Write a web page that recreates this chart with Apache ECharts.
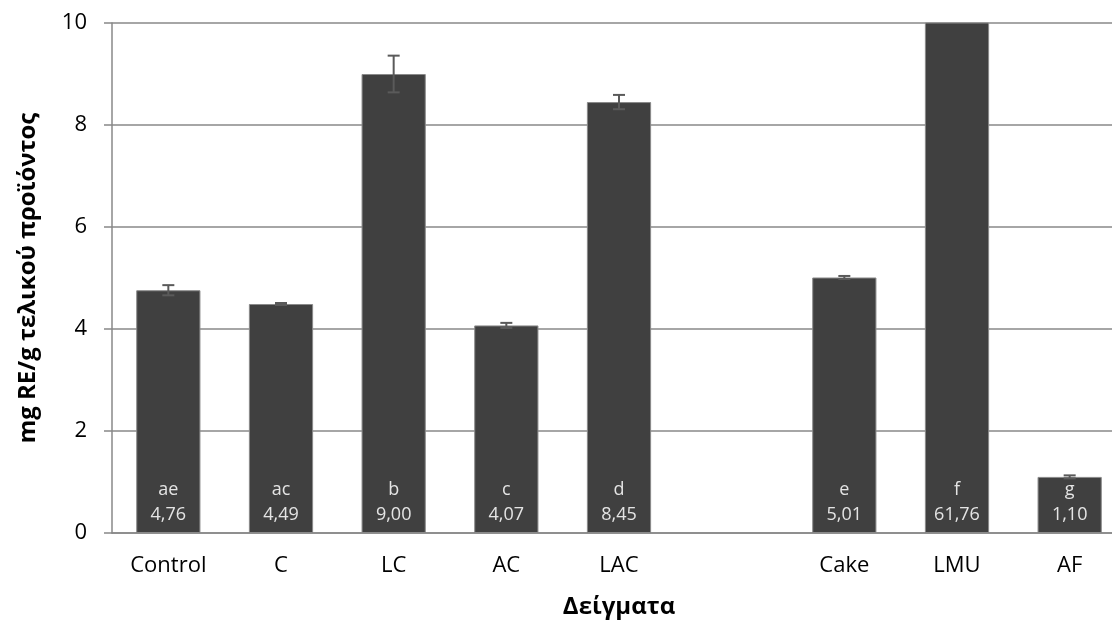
<!DOCTYPE html>
<html>
<head>
<meta charset="utf-8">
<script src="https://cdn.jsdelivr.net/npm/echarts@6/dist/echarts.min.js"></script>
<style>
  html, body { margin: 0; padding: 0; background: #fff; }
  #chart { width: 1112px; height: 621px; }
</style>
</head>
<body>
<div id="chart"></div>
<script>
// samples (empty slot between LAC and Cake, as in the original)
const categories = ['Control', 'C', 'LC', 'AC', 'LAC', '', 'Cake', 'LMU', 'AF']
const values = [4.76, 4.49, 9.00, 4.07, 8.45, null, 5.01, 61.76, 1.10]
const errors = [0.10, 0.02, 0.36, 0.05, 0.14, null, 0.03, 0, 0.03]
const letters = ['ae', 'ac', 'b', 'c', 'd', '', 'e', 'f', 'g']

const fontFamily = 'Open Sans'

let chart = echarts.init(document.getElementById('chart'))

let errorData = []
values.forEach((v, i) => {
  if (v != null) {
    errorData.push([i, v - errors[i], v + errors[i]])
  }
})

const options = {
  animation: false,
  grid: {
    left: 112,
    width: 1014,
    top: 23,
    height: 510,
    outerBoundsMode: 'none',
    containLabel: false
  },
  xAxis: {
    type: 'category',
    data: categories,
    name: 'Δείγματα',
    nameLocation: 'middle',
    nameGap: 62,
    nameTextStyle: {
      fontFamily: fontFamily,
      fontSize: 24,
      fontWeight: 'bold',
      color: '#000'
    },
    axisLine: { lineStyle: { color: '#888', width: 1.5 } },
    axisTick: { show: false },
    axisLabel: {
      fontFamily: fontFamily,
      fontSize: 22,
      color: '#000',
      margin: 22
    }
  },
  yAxis: {
    type: 'value',
    min: 0,
    max: 10,
    interval: 2,
    name: 'mg RE/g τελικού προϊόντος',
    nameLocation: 'middle',
    nameGap: 72,
    nameTextStyle: {
      fontFamily: fontFamily,
      fontSize: 24,
      fontWeight: 'bold',
      color: '#000'
    },
    axisLine: { show: true, lineStyle: { color: '#888', width: 1.5 } },
    axisTick: { show: true, length: 8, lineStyle: { color: '#888', width: 1.5 } },
    splitLine: { lineStyle: { color: '#888', width: 1.5 } },
    axisLabel: {
      fontFamily: fontFamily,
      fontSize: 22,
      color: '#000',
      margin: 25
    }
  },
  series: [
    {
      type: 'bar',
      data: values,
      barCategoryGap: '43%',
      itemStyle: {
        color: '#404040',
        borderColor: '#8a8a8a',
        borderWidth: 1
      },
      label: {
        show: true,
        position: 'insideBottom',
        distance: 6,
        fontFamily: fontFamily,
        fontSize: 18,
        lineHeight: 25,
        color: '#e4e4e4',
        formatter: p => letters[p.dataIndex] + '\n' + p.value.toFixed(2).replace('.', ',')
      },
      z: 2
    },
    {
      type: 'custom',
      data: errorData,
      clip: true,
      z: 3,
      renderItem: (params, api) => {
        let x = api.value(0)
        let low = api.coord([x, api.value(1)])
        let high = api.coord([x, api.value(2)])
        let half = 6
        let style = { stroke: '#5a5a5a', lineWidth: 2 }
        return {
          type: 'group',
          children: [
            { type: 'line', shape: { x1: low[0], y1: low[1], x2: high[0], y2: high[1] }, style: style },
            { type: 'line', shape: { x1: low[0] - half, y1: low[1], x2: low[0] + half, y2: low[1] }, style: style },
            { type: 'line', shape: { x1: high[0] - half, y1: high[1], x2: high[0] + half, y2: high[1] }, style: style }
          ]
        }
      }
    }
  ]
}
chart.setOption(options)
</script>
</body>
</html>
